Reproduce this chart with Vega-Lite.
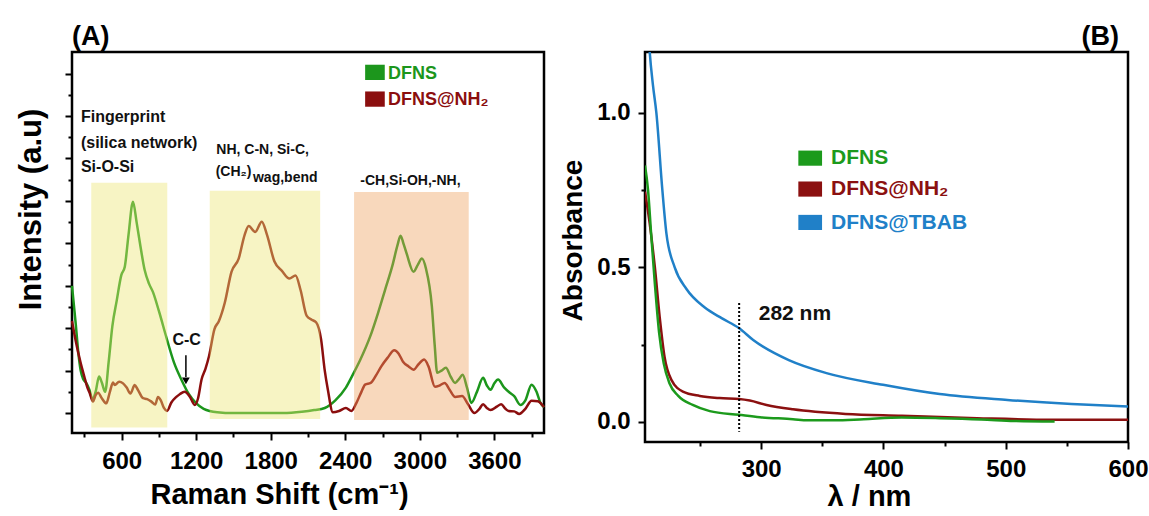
{
"$schema":"https://vega.github.io/schema/vega-lite/v6.json",
"background":"white",
"padding":{"left":13,"top":21,"right":2,"bottom":2},
"columns":2,
"spacing":101,
"align":"none",
"bounds":"flush",
"resolve":{"scale":{"color":"independent"}},
"config":{
 "view":{"stroke":"black","strokeWidth":2.5},
 "font":"Liberation Sans",
 "axis":{"domain":false,"grid":false,"tickColor":"black","tickWidth":2,"tickSize":7,"labelFont":"Liberation Sans","labelFontWeight":"bold","labelFontSize":24,"labelColor":"black","labelFlush":false,"labelOverlap":false,"labelPadding":8,"titleFont":"Liberation Sans","titleFontWeight":"bold","titleColor":"black"},
 "title":{"font":"Liberation Sans","fontWeight":"bold","fontSize":27,"color":"black","baseline":"alphabetic","offset":1}
},
"datasets":{
 "ramanA":[
{"s":"DFNS","x":200,"y":3.0},{"s":"DFNS","x":215,"y":2.55},{"s":"DFNS","x":230,"y":2.1},{"s":"DFNS","x":250,"y":1.45},{"s":"DFNS","x":270,"y":1.0},{"s":"DFNS","x":290,"y":0.8},{"s":"DFNS","x":312,"y":0.72},{"s":"DFNS","x":340,"y":0.55},{"s":"DFNS","x":365,"y":0.32},{"s":"DFNS","x":390,"y":0.5},{"s":"DFNS","x":418,"y":0.86},{"s":"DFNS","x":440,"y":0.72},{"s":"DFNS","x":467,"y":0.5},{"s":"DFNS","x":495,"y":1.2},{"s":"DFNS","x":525,"y":2.05},{"s":"DFNS","x":560,"y":2.65},{"s":"DFNS","x":597,"y":3.25},{"s":"DFNS","x":625,"y":3.45},{"s":"DFNS","x":655,"y":4.2},{"s":"DFNS","x":691,"y":4.98},{"s":"DFNS","x":720,"y":4.5},{"s":"DFNS","x":750,"y":3.95},{"s":"DFNS","x":785,"y":3.37},{"s":"DFNS","x":820,"y":3.05},{"s":"DFNS","x":852,"y":2.85},{"s":"DFNS","x":900,"y":2.4},{"s":"DFNS","x":966,"y":1.72},{"s":"DFNS","x":1020,"y":1.2},{"s":"DFNS","x":1082,"y":0.78},{"s":"DFNS","x":1140,"y":0.45},{"s":"DFNS","x":1197,"y":0.24},{"s":"DFNS","x":1260,"y":0.1},{"s":"DFNS","x":1369,"y":0.02},{"s":"DFNS","x":1500,"y":0.0},{"s":"DFNS","x":1700,"y":0.0},{"s":"DFNS","x":1900,"y":0.0},{"s":"DFNS","x":2050,"y":0.03},{"s":"DFNS","x":2150,"y":0.07},{"s":"DFNS","x":2235,"y":0.12},{"s":"DFNS","x":2320,"y":0.3},{"s":"DFNS","x":2405,"y":0.6},{"s":"DFNS","x":2460,"y":0.9},{"s":"DFNS","x":2520,"y":1.25},{"s":"DFNS","x":2600,"y":1.8},{"s":"DFNS","x":2665,"y":2.37},{"s":"DFNS","x":2720,"y":2.9},{"s":"DFNS","x":2780,"y":3.48},{"s":"DFNS","x":2820,"y":3.95},{"s":"DFNS","x":2845,"y":4.18},{"s":"DFNS","x":2870,"y":3.98},{"s":"DFNS","x":2895,"y":3.75},{"s":"DFNS","x":2950,"y":3.33},{"s":"DFNS","x":2985,"y":3.5},{"s":"DFNS","x":3017,"y":3.64},{"s":"DFNS","x":3050,"y":3.4},{"s":"DFNS","x":3097,"y":2.52},{"s":"DFNS","x":3120,"y":1.6},{"s":"DFNS","x":3140,"y":0.95},{"s":"DFNS","x":3175,"y":1.0},{"s":"DFNS","x":3210,"y":1.07},{"s":"DFNS","x":3250,"y":0.85},{"s":"DFNS","x":3285,"y":0.71},{"s":"DFNS","x":3315,"y":0.8},{"s":"DFNS","x":3345,"y":0.9},{"s":"DFNS","x":3380,"y":0.6},{"s":"DFNS","x":3415,"y":0.24},{"s":"DFNS","x":3460,"y":0.5},{"s":"DFNS","x":3510,"y":0.83},{"s":"DFNS","x":3540,"y":0.65},{"s":"DFNS","x":3570,"y":0.55},{"s":"DFNS","x":3600,"y":0.7},{"s":"DFNS","x":3630,"y":0.79},{"s":"DFNS","x":3680,"y":0.6},{"s":"DFNS","x":3725,"y":0.48},{"s":"DFNS","x":3760,"y":0.4},{"s":"DFNS","x":3810,"y":0.19},{"s":"DFNS","x":3850,"y":0.3},{"s":"DFNS","x":3900,"y":0.67},{"s":"DFNS","x":3940,"y":0.5},{"s":"DFNS","x":3970,"y":0.25},{"s":"DFNS","x":4000,"y":0.14},
{"s":"DFNS@NH2","x":200,"y":2.17},{"s":"DFNS@NH2","x":230,"y":1.7},{"s":"DFNS@NH2","x":268,"y":1.2},{"s":"DFNS@NH2","x":300,"y":0.85},{"s":"DFNS@NH2","x":322,"y":0.62},{"s":"DFNS@NH2","x":345,"y":0.45},{"s":"DFNS@NH2","x":369,"y":0.27},{"s":"DFNS@NH2","x":390,"y":0.42},{"s":"DFNS@NH2","x":410,"y":0.48},{"s":"DFNS@NH2","x":440,"y":0.35},{"s":"DFNS@NH2","x":476,"y":0.23},{"s":"DFNS@NH2","x":505,"y":0.5},{"s":"DFNS@NH2","x":530,"y":0.72},{"s":"DFNS@NH2","x":544,"y":0.66},{"s":"DFNS@NH2","x":580,"y":0.74},{"s":"DFNS@NH2","x":611,"y":0.7},{"s":"DFNS@NH2","x":640,"y":0.6},{"s":"DFNS@NH2","x":670,"y":0.46},{"s":"DFNS@NH2","x":705,"y":0.66},{"s":"DFNS@NH2","x":730,"y":0.55},{"s":"DFNS@NH2","x":772,"y":0.35},{"s":"DFNS@NH2","x":805,"y":0.33},{"s":"DFNS@NH2","x":839,"y":0.27},{"s":"DFNS@NH2","x":870,"y":0.2},{"s":"DFNS@NH2","x":892,"y":0.38},{"s":"DFNS@NH2","x":915,"y":0.3},{"s":"DFNS@NH2","x":940,"y":0.12},{"s":"DFNS@NH2","x":965,"y":0.05},{"s":"DFNS@NH2","x":1000,"y":0.25},{"s":"DFNS@NH2","x":1040,"y":0.38},{"s":"DFNS@NH2","x":1070,"y":0.45},{"s":"DFNS@NH2","x":1107,"y":0.5},{"s":"DFNS@NH2","x":1150,"y":0.38},{"s":"DFNS@NH2","x":1188,"y":0.19},{"s":"DFNS@NH2","x":1215,"y":0.35},{"s":"DFNS@NH2","x":1243,"y":0.79},{"s":"DFNS@NH2","x":1275,"y":1.05},{"s":"DFNS@NH2","x":1303,"y":1.34},{"s":"DFNS@NH2","x":1347,"y":1.98},{"s":"DFNS@NH2","x":1383,"y":2.17},{"s":"DFNS@NH2","x":1430,"y":2.6},{"s":"DFNS@NH2","x":1484,"y":3.33},{"s":"DFNS@NH2","x":1542,"y":3.64},{"s":"DFNS@NH2","x":1590,"y":4.2},{"s":"DFNS@NH2","x":1622,"y":4.41},{"s":"DFNS@NH2","x":1675,"y":4.27},{"s":"DFNS@NH2","x":1728,"y":4.51},{"s":"DFNS@NH2","x":1770,"y":4.2},{"s":"DFNS@NH2","x":1830,"y":3.57},{"s":"DFNS@NH2","x":1890,"y":3.35},{"s":"DFNS@NH2","x":1950,"y":3.17},{"s":"DFNS@NH2","x":2000,"y":3.24},{"s":"DFNS@NH2","x":2040,"y":2.9},{"s":"DFNS@NH2","x":2090,"y":2.29},{"s":"DFNS@NH2","x":2130,"y":2.2},{"s":"DFNS@NH2","x":2165,"y":2.14},{"s":"DFNS@NH2","x":2205,"y":1.74},{"s":"DFNS@NH2","x":2235,"y":1.0},{"s":"DFNS@NH2","x":2260,"y":0.55},{"s":"DFNS@NH2","x":2300,"y":0.02},{"s":"DFNS@NH2","x":2350,"y":0.05},{"s":"DFNS@NH2","x":2405,"y":0.12},{"s":"DFNS@NH2","x":2450,"y":0.05},{"s":"DFNS@NH2","x":2490,"y":0.24},{"s":"DFNS@NH2","x":2530,"y":0.5},{"s":"DFNS@NH2","x":2560,"y":0.67},{"s":"DFNS@NH2","x":2605,"y":0.71},{"s":"DFNS@NH2","x":2650,"y":0.9},{"s":"DFNS@NH2","x":2690,"y":1.1},{"s":"DFNS@NH2","x":2740,"y":1.3},{"s":"DFNS@NH2","x":2795,"y":1.48},{"s":"DFNS@NH2","x":2830,"y":1.4},{"s":"DFNS@NH2","x":2865,"y":1.21},{"s":"DFNS@NH2","x":2910,"y":1.1},{"s":"DFNS@NH2","x":2950,"y":1.02},{"s":"DFNS@NH2","x":2990,"y":1.15},{"s":"DFNS@NH2","x":3035,"y":1.26},{"s":"DFNS@NH2","x":3070,"y":1.1},{"s":"DFNS@NH2","x":3122,"y":0.62},{"s":"DFNS@NH2","x":3160,"y":0.65},{"s":"DFNS@NH2","x":3200,"y":0.71},{"s":"DFNS@NH2","x":3240,"y":0.55},{"s":"DFNS@NH2","x":3285,"y":0.38},{"s":"DFNS@NH2","x":3340,"y":0.4},{"s":"DFNS@NH2","x":3390,"y":0.2},{"s":"DFNS@NH2","x":3440,"y":0.0},{"s":"DFNS@NH2","x":3480,"y":0.1},{"s":"DFNS@NH2","x":3510,"y":0.21},{"s":"DFNS@NH2","x":3540,"y":0.12},{"s":"DFNS@NH2","x":3570,"y":0.07},{"s":"DFNS@NH2","x":3620,"y":0.15},{"s":"DFNS@NH2","x":3655,"y":0.21},{"s":"DFNS@NH2","x":3690,"y":0.1},{"s":"DFNS@NH2","x":3715,"y":0.05},{"s":"DFNS@NH2","x":3760,"y":0.04},{"s":"DFNS@NH2","x":3800,"y":-0.02},{"s":"DFNS@NH2","x":3850,"y":0.1},{"s":"DFNS@NH2","x":3900,"y":0.29},{"s":"DFNS@NH2","x":3950,"y":0.28},{"s":"DFNS@NH2","x":4000,"y":0.14}
 ],
 "bandsA":[
  {"band":"y","x":355,"x2":967,"y":-0.34,"y2":5.43},
  {"band":"y","x":1309,"x2":2198,"y":-0.14,"y2":5.24},
  {"band":"o","x":2471,"x2":3394,"y":-0.165,"y2":5.21}
 ],
 "textA":[
  {"g":"a","x":272,"y":6.98,"t":"Fingerprint"},
  {"g":"a","x":272,"y":6.37,"t":"(silica network)"},
  {"g":"a","x":272,"y":5.8,"t":"Si-O-Si"},
  {"g":"b","x":1362,"y":6.2,"t":"NH, C-N, Si-C,"},
  {"g":"b","x":1357,"y":5.68,"t":"(CH₂)"},
  {"g":"b","x":1657,"y":5.55,"t":"wag,bend"},
  {"g":"b","x":2521,"y":5.46,"t":"-CH,Si-OH,-NH,"},
  {"g":"c","x":1123,"y":1.72,"t":"C-C"}
 ],
 "arrowA":[{"x":1117,"y":1.36,"y2":0.85}],
 "headA":[{"x":1117,"y":0.76}],
 "legA":[
  {"s":"DFNS","x":2560,"x2":2718,"y":8.21,"y2":7.85,"tx":2744,"ty":8.0,"label":"DFNS"},
  {"s":"DFNS@NH2","x":2560,"x2":2718,"y":7.58,"y2":7.22,"tx":2744,"ty":7.38,"label":"DFNS@NH₂"}
 ],
 "uvB":[
  {"s":"DFNS@TBAB","x":207,"y":1.32},{"s":"DFNS@TBAB","x":208.8,"y":1.2},{"s":"DFNS@TBAB","x":211.5,"y":1.09},{"s":"DFNS@TBAB","x":214.3,"y":1.0},{"s":"DFNS@TBAB","x":219.2,"y":0.75},{"s":"DFNS@TBAB","x":222.5,"y":0.61},{"s":"DFNS@TBAB","x":229.3,"y":0.5},{"s":"DFNS@TBAB","x":238.9,"y":0.43},{"s":"DFNS@TBAB","x":253.9,"y":0.37},{"s":"DFNS@TBAB","x":268,"y":0.335},{"s":"DFNS@TBAB","x":282,"y":0.303},{"s":"DFNS@TBAB","x":293.5,"y":0.265},{"s":"DFNS@TBAB","x":322.6,"y":0.2},{"s":"DFNS@TBAB","x":353.4,"y":0.158},{"s":"DFNS@TBAB","x":399.7,"y":0.12},{"s":"DFNS@TBAB","x":446,"y":0.09},{"s":"DFNS@TBAB","x":501.4,"y":0.071},{"s":"DFNS@TBAB","x":553.8,"y":0.058},{"s":"DFNS@TBAB","x":600,"y":0.05},
  {"s":"DFNS@NH2","x":205,"y":0.745},{"s":"DFNS@NH2","x":208.8,"y":0.643},{"s":"DFNS@NH2","x":213,"y":0.503},{"s":"DFNS@NH2","x":217,"y":0.34},{"s":"DFNS@NH2","x":221,"y":0.21},{"s":"DFNS@NH2","x":226.6,"y":0.136},{"s":"DFNS@NH2","x":236,"y":0.098},{"s":"DFNS@NH2","x":249.8,"y":0.084},{"s":"DFNS@NH2","x":266,"y":0.077},{"s":"DFNS@NH2","x":282,"y":0.074},{"s":"DFNS@NH2","x":290.7,"y":0.069},{"s":"DFNS@NH2","x":304.4,"y":0.055},{"s":"DFNS@NH2","x":326,"y":0.041},{"s":"DFNS@NH2","x":369,"y":0.026},{"s":"DFNS@NH2","x":415,"y":0.02},{"s":"DFNS@NH2","x":476.6,"y":0.012},{"s":"DFNS@NH2","x":538,"y":0.007},{"s":"DFNS@NH2","x":600,"y":0.007},
  {"s":"DFNS","x":205,"y":0.83},{"s":"DFNS","x":207.5,"y":0.75},{"s":"DFNS","x":210,"y":0.61},{"s":"DFNS","x":213,"y":0.45},{"s":"DFNS","x":216.5,"y":0.29},{"s":"DFNS","x":220.3,"y":0.19},{"s":"DFNS","x":225,"y":0.125},{"s":"DFNS","x":232,"y":0.085},{"s":"DFNS","x":244,"y":0.055},{"s":"DFNS","x":258,"y":0.035},{"s":"DFNS","x":282,"y":0.023},{"s":"DFNS","x":299,"y":0.015},{"s":"DFNS","x":326,"y":0.009},{"s":"DFNS","x":338,"y":0.005},{"s":"DFNS","x":360,"y":0.005},{"s":"DFNS","x":384,"y":0.009},{"s":"DFNS","x":415,"y":0.014},{"s":"DFNS","x":446,"y":0.012},{"s":"DFNS","x":480,"y":0.008},{"s":"DFNS","x":507,"y":0.003},{"s":"DFNS","x":540,"y":0.001}
 ],
 "ruleB":[{"x":282,"y":0.385,"y2":-0.032}],
 "textB":[{"x":298,"y":0.35,"t":"282 nm"}],
 "legB":[
  {"s":"DFNS","x":330.4,"x2":349.8,"y":0.878,"y2":0.829,"tx":357.2,"ty":0.854,"label":"DFNS"},
  {"s":"DFNS@NH2","x":330.4,"x2":349.8,"y":0.778,"y2":0.729,"tx":357.2,"ty":0.753,"label":"DFNS@NH₂"},
  {"s":"DFNS@TBAB","x":330.4,"x2":349.8,"y":0.670,"y2":0.621,"tx":357.2,"ty":0.645,"label":"DFNS@TBAB"}
 ]
},
"concat":[
 {
  "width":472,"height":381,
  "title":{"text":"(A)","anchor":"start","frame":"group"},
  "resolve":{"axis":{"x":"independent","y":"independent"}},
  "encoding":{
   "x":{"field":"x","type":"quantitative","scale":{"domain":[200,4000],"nice":false,"zero":false},"axis":null},
   "y":{"field":"y","type":"quantitative","scale":{"domain":[-0.47,8.51],"nice":false,"zero":false},"axis":null}
  },
  "layer":[
   {"data":{"name":"ramanA"},"mark":{"type":"line","strokeWidth":2.5,"interpolate":"monotone"},
    "encoding":{
     "x":{"field":"x","type":"quantitative","scale":{"domain":[200,4000],"nice":false,"zero":false},
      "axis":{"orient":"bottom","values":[600,1200,1800,2400,3000,3600],"format":"d","title":"Raman Shift (cm⁻¹)","titleFontSize":29,"titleX":207,"titleY":70,"titleBaseline":"alphabetic","titleAlign":"center","labelPadding":9}},
     "y":{"field":"y","type":"quantitative","scale":{"domain":[-0.47,8.51],"nice":false,"zero":false},
      "axis":{"orient":"left","values":[0,1,2,3,4,5,6,7,8],"labels":false,"title":"Intensity (a.u)","titleFontSize":31,"titleX":-32,"titleY":157,"titleBaseline":"alphabetic","titleAlign":"center","titleAngle":270}},
     "color":{"field":"s","type":"nominal","scale":{"domain":["DFNS","DFNS@NH2"],"range":["#1c961c","#8b0e0e"]},"legend":null}
    }},
   {"data":{"name":"bandsA"},"transform":[{"filter":"datum.band == 'y'"}],"mark":{"type":"rect","color":"#ece572","opacity":0.42},
    "encoding":{
     "x":{"field":"x","type":"quantitative","scale":{"domain":[200,4000],"nice":false,"zero":false},
      "axis":{"orient":"bottom","values":[300,900,1500,2100,2700,3300,3900],"labels":false,"tickSize":4,"title":null}},
     "x2":{"field":"x2"},
     "y":{"field":"y","type":"quantitative","scale":{"domain":[-0.47,8.51],"nice":false,"zero":false},
      "axis":{"orient":"left","values":[0.5,1.5,2.5,3.5,4.5,5.5,6.5,7.5],"labels":false,"tickSize":4,"title":null}},
     "y2":{"field":"y2"}
    }},
   {"data":{"name":"bandsA"},"transform":[{"filter":"datum.band == 'o'"}],"mark":{"type":"rect","color":"#eea25f","opacity":0.42},
    "encoding":{"x2":{"field":"x2"},"y2":{"field":"y2"}}},
   {"data":{"name":"textA"},"transform":[{"filter":"datum.g == 'a'"}],"mark":{"type":"text","align":"left","baseline":"middle","fontSize":16,"fontWeight":"bold","color":"#111111"},
    "encoding":{"text":{"field":"t"}}},
   {"data":{"name":"textA"},"transform":[{"filter":"datum.g == 'b'"}],"mark":{"type":"text","align":"left","baseline":"middle","fontSize":14,"fontWeight":"bold","color":"#111111"},
    "encoding":{"text":{"field":"t"}}},
   {"data":{"name":"textA"},"transform":[{"filter":"datum.g == 'c'"}],"mark":{"type":"text","align":"center","baseline":"middle","fontSize":16,"fontWeight":"bold","color":"#111111"},
    "encoding":{"text":{"field":"t"}}},
   {"data":{"name":"arrowA"},"mark":{"type":"rule","strokeWidth":1.5,"color":"black"},
    "encoding":{"y2":{"field":"y2"}}},
   {"data":{"name":"headA"},"mark":{"type":"point","shape":"triangle-down","filled":true,"size":60,"color":"black","opacity":1},
    "encoding":{}},
   {"data":{"name":"legA"},"mark":{"type":"rect"},
    "encoding":{"x2":{"field":"x2"},"y2":{"field":"y2"},
     "color":{"field":"s","type":"nominal","scale":{"domain":["DFNS","DFNS@NH2"],"range":["#1c961c","#8b0e0e"]},"legend":null}}},
   {"data":{"name":"legA"},"mark":{"type":"text","align":"left","baseline":"middle","fontSize":18,"fontWeight":"bold"},
    "encoding":{
     "x":{"field":"tx","type":"quantitative","scale":{"domain":[200,4000],"nice":false,"zero":false},"axis":null},
     "y":{"field":"ty","type":"quantitative","scale":{"domain":[-0.47,8.51],"nice":false,"zero":false},"axis":null},
     "text":{"field":"label"},
     "color":{"field":"s","type":"nominal","scale":{"domain":["DFNS","DFNS@NH2"],"range":["#1c961c","#8b0e0e"]},"legend":null}}}
  ]
 },
 {
  "width":483,"height":390,
  "title":{"text":"(B)","anchor":"end","frame":"group","dx":-9},
  "resolve":{"axis":{"x":"independent","y":"independent"}},
  "encoding":{
   "x":{"field":"x","type":"quantitative","scale":{"domain":[205,600],"nice":false,"zero":false},"axis":null},
   "y":{"field":"y","type":"quantitative","scale":{"domain":[-0.065,1.197],"nice":false,"zero":false},"axis":null}
  },
  "layer":[
   {"data":{"name":"uvB"},"mark":{"type":"line","strokeWidth":2.5,"interpolate":"monotone","clip":true},
    "encoding":{
     "x":{"field":"x","type":"quantitative","scale":{"domain":[205,600],"nice":false,"zero":false},
      "axis":{"orient":"bottom","values":[300,400,500,600],"title":"λ / nm","titleFontSize":29,"titleX":224,"titleY":63,"titleBaseline":"alphabetic","titleAlign":"center","labelPadding":8}},
     "y":{"field":"y","type":"quantitative","scale":{"domain":[-0.065,1.197],"nice":false,"zero":false},
      "axis":{"orient":"left","values":[0,0.5,1.0],"format":".1f","title":"Absorbance","titleFontSize":28,"titleX":-64,"titleY":188,"titleBaseline":"alphabetic","titleAlign":"center","titleAngle":270,"labelPadding":8}},
     "color":{"field":"s","type":"nominal","scale":{"domain":["DFNS","DFNS@NH2","DFNS@TBAB"],"range":["#1c9a1c","#8b1010","#2080c8"]},"legend":null}
    }},
   {"data":{"name":"ruleB"},"mark":{"type":"rule","strokeWidth":2,"strokeDash":[2,2],"color":"black"},
    "encoding":{
     "x":{"field":"x","type":"quantitative","scale":{"domain":[205,600],"nice":false,"zero":false},
      "axis":{"orient":"bottom","values":[250,350,450,550],"labels":false,"tickSize":4,"title":null}},
     "y":{"field":"y","type":"quantitative","scale":{"domain":[-0.065,1.197],"nice":false,"zero":false},
      "axis":{"orient":"left","values":[0.25,0.75],"labels":false,"tickSize":4,"title":null}},
     "y2":{"field":"y2"}
    }},
   {"data":{"name":"textB"},"mark":{"type":"text","align":"left","baseline":"middle","fontSize":21,"fontWeight":"bold","color":"#111111"},
    "encoding":{"text":{"field":"t"}}},
   {"data":{"name":"legB"},"mark":{"type":"rect"},
    "encoding":{"x2":{"field":"x2"},"y2":{"field":"y2"},
     "color":{"field":"s","type":"nominal","scale":{"domain":["DFNS","DFNS@NH2","DFNS@TBAB"],"range":["#1c9a1c","#8b1010","#2080c8"]},"legend":null}}},
   {"data":{"name":"legB"},"mark":{"type":"text","align":"left","baseline":"middle","fontSize":21,"fontWeight":"bold"},
    "encoding":{
     "x":{"field":"tx","type":"quantitative","scale":{"domain":[205,600],"nice":false,"zero":false},"axis":null},
     "y":{"field":"ty","type":"quantitative","scale":{"domain":[-0.065,1.197],"nice":false,"zero":false},"axis":null},
     "text":{"field":"label"},
     "color":{"field":"s","type":"nominal","scale":{"domain":["DFNS","DFNS@NH2","DFNS@TBAB"],"range":["#1c9a1c","#8b1010","#2080c8"]},"legend":null}}}
  ]
 }
]
}
